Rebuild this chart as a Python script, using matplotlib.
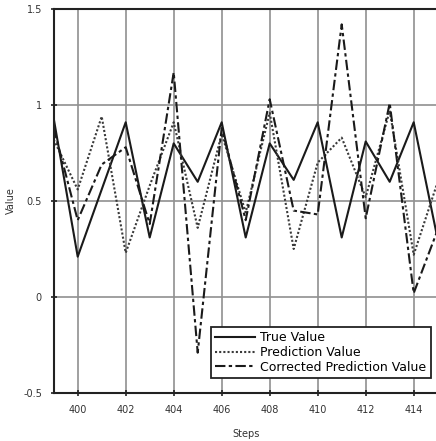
import matplotlib
matplotlib.use("Agg")
import matplotlib.pyplot as plt
from matplotlib.ticker import FuncFormatter

steps = list(range(399, 416))
true_value = [0.93, 0.21, 0.56, 0.91, 0.31, 0.80, 0.60, 0.91, 0.31, 0.80, 0.61, 0.91, 0.31, 0.81, 0.60, 0.91, 0.30]
prediction_value = [0.82, 0.56, 0.94, 0.23, 0.58, 0.91, 0.36, 0.85, 0.44, 0.96, 0.25, 0.70, 0.83, 0.52, 0.97, 0.22, 0.60]
corrected_value = [0.88, 0.40, 0.69, 0.78, 0.38, 1.17, -0.29, 0.88, 0.40, 1.03, 0.45, 0.43, 1.42, 0.41, 1.01, 0.02, 0.35]
x_ticks = [400, 402, 404, 406, 408, 410, 412, 414]
y_ticks = [-0.5, 0, 0.5, 1, 1.5]
labels = ["True Value", "Prediction Value", "Corrected Prediction Value"]

fig = plt.figure(figsize=(4.36, 4.41), dpi=100)
ax = fig.add_axes([53.7 / 436, 48 / 441, 384 / 436, 384 / 441])

ax.plot(steps, true_value, color="#1a1a1a", lw=1.5, linestyle="-", label=labels[0])
ax.plot(steps, prediction_value, color="#3a3a3a", lw=1.5, linestyle=(0, (1, 1)), label=labels[1])
ax.plot(steps, corrected_value, color="#1a1a1a", lw=1.5, linestyle=(0, (5, 1.6, 1.6, 1.6)), label=labels[2])

ax.set_xlim(399, 415)
ax.set_ylim(-0.5, 1.5)
ax.set_xticks(x_ticks)
ax.set_yticks(y_ticks)
ax.yaxis.set_major_formatter(FuncFormatter(lambda v, p: ("%g" % v)))
ax.grid(True, color="#909090", lw=1.2)
ax.set_axisbelow(True)
for s in ax.spines.values():
    s.set_linewidth(1.5)
    s.set_color("#222222")
ax.tick_params(direction="inout", length=5, width=1.2, labelsize=7, labelcolor="#333333", color="#222222", pad=6)

ax.set_xlabel("Steps", fontsize=7, color="#333333", labelpad=10)
ax.set_ylabel("Value", fontsize=7, color="#333333", labelpad=5)

leg = ax.legend(loc="upper left", bbox_to_anchor=(210.7 / 436, (441 - 326.7) / 441),
                bbox_transform=fig.transFigure, borderaxespad=0, fancybox=False,
                edgecolor="#222222", framealpha=1, fontsize=9, handlelength=3.2,
                handletextpad=0.4, labelspacing=0.15, borderpad=0.35)
leg.get_frame().set_linewidth(1.3)

fig.savefig("out.png", dpi=100)
